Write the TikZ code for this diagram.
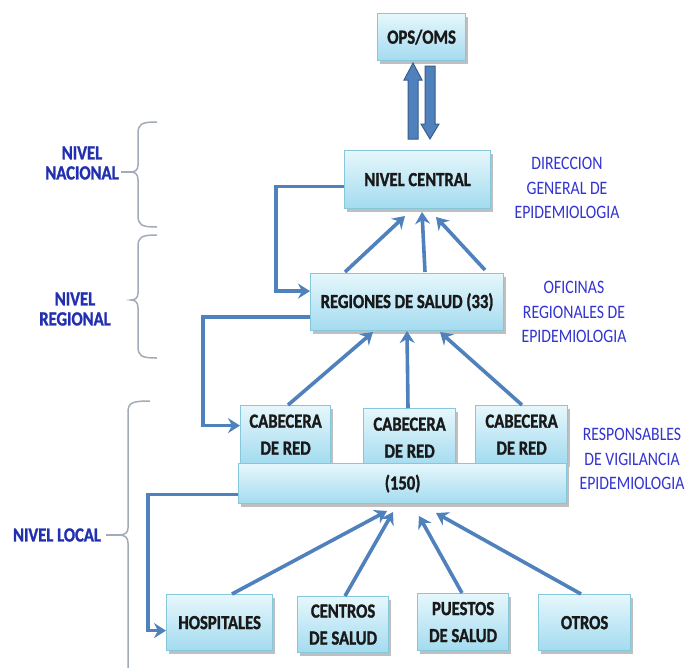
\documentclass[tikz,border=0pt]{standalone}
\usepackage{fontspec}
\setmainfont[FakeStretch=0.83,BoldFeatures={FakeBold=1.3}]{Carlito}
\usetikzlibrary{arrows.meta,shadows,calc}

\definecolor{arrowblue}{HTML}{4F81BD}
\definecolor{arrowedge}{HTML}{385D8A}
\definecolor{boxtop}{HTML}{E6F7FC}
\definecolor{boxbottom}{HTML}{A3DBEF}
\definecolor{boxedge}{HTML}{86C7DC}
\definecolor{levelblue}{HTML}{2230B0}
\definecolor{notesblue}{HTML}{3333D2}
\definecolor{bracegray}{HTML}{A3ABB8}

\tikzset{
  box/.style={anchor=north west, draw=boxedge, line width=1.2pt,
    top color=boxtop, bottom color=boxbottom, align=center,
    inner sep=2pt, text=black!90,
    font=\fontsize{20}{27}\selectfont\bfseries,
    drop shadow={shadow xshift=2pt, shadow yshift=-3pt, fill=black, opacity=0.25}},
  conn/.style={draw=arrowblue, line width=3.6pt,
    -{Stealth[length=12pt,width=15pt,inset=4pt]}},
  level/.style={text=levelblue, align=center,
    font=\fontsize{20}{20}\selectfont\bfseries},
  notes/.style={text=notesblue, align=center,
    font=\fontsize{19}{24.5}\selectfont},
  bracepath/.style={draw=bracegray, line width=1.5pt},
  blockarrow/.style={fill=arrowblue, draw=arrowedge, line width=1pt}
}

\begin{document}
\begin{tikzpicture}[x=1pt,y=-1pt]
\useasboundingbox[fill=white] (0,0) rectangle (685,667);

% ---- boxes ----
\node[box, minimum width=88, minimum height=47] (ops) at (377,13) {OPS/OMS};
\node[box, minimum width=146, minimum height=58] (central) at (344,150) {NIVEL CENTRAL};
\node[box, minimum width=193, minimum height=57] (regiones) at (310,273) {REGIONES DE SALUD (33)};

\node[box, minimum width=90, minimum height=58] (cab1) at (240,405) {CABECERA\\DE RED};
\node[box, minimum width=92, minimum height=58] (cab2) at (363,408) {CABECERA\\DE RED};
\node[box, minimum width=92, minimum height=58] (cab3) at (475,405) {CABECERA\\DE RED};
\node[box, minimum width=328, minimum height=40] (red) at (238,463) {(150)};

\node[box, minimum width=106, minimum height=56] (hosp) at (166,594) {HOSPITALES};
\node[box, minimum width=91, minimum height=56] (centros) at (297,596) {CENTROS\\DE SALUD};
\node[box, minimum width=91, minimum height=57] (puestos) at (417,593) {PUESTOS\\DE SALUD};
\node[box, minimum width=92, minimum height=56] (otros) at (538,594) {OTROS};

% ---- exchange with OPS/OMS ----
\path[blockarrow] (408,139) -- (408,80) -- (404,80) -- (413,63) -- (422,80)
  -- (418,80) -- (418,139) -- cycle;
\path[blockarrow] (425,66) -- (435,66) -- (435,124) -- (439,124) -- (430,139)
  -- (421,124) -- (425,124) -- cycle;

% ---- reporting arrows ----
\coordinate (r1) at (345,272); \coordinate (c1) at (405,216);
\coordinate (r2) at (425,272); \coordinate (c2) at (422,212);
\coordinate (r3) at (485,270); \coordinate (c3) at (436,217);
\draw[conn] (r1) -- (c1);
\draw[conn] (r2) -- (c2);
\draw[conn] (r3) -- (c3);

\draw[conn] (cab1.north -| 288,0) -- (373,332);
\draw[conn] (cab2.north -| 408,0) -- (407,331);
\draw[conn] (cab3.north -| 522,0) -- (440,332);

\draw[conn] (hosp.north -| 232,0) -- (387,511);
\draw[conn] (centros.north -| 345,0) -- (393,512);
\draw[conn] (puestos.north -| 462,0) -- (419,516);
\draw[conn] (otros.north -| 581,0) -- (436,513);

% ---- feedback elbows ----
\draw[conn] ([yshift=-7pt]central.west) -- ++(-68,0) |- ([yshift=11pt]regiones.west);
\draw[conn] ([yshift=-15pt]regiones.west) -- ++(-107,0) |- ([yshift=9pt]cab1.west);
\draw[conn] ([yshift=-11pt]red.west) -- ++(-90,0) |- ([yshift=-8pt]hosp.west);

% ---- level braces ----
\draw[bracepath] (157,122) .. controls (141,122) and (138,124) .. (138,134)
  -- (138,165) .. controls (138,170) and (135,172) .. (131,172)
  .. controls (135,172) and (138,174) .. (138,180)
  -- (138,215) .. controls (138,225) and (141,227) .. (157,227);
\draw[bracepath] (157,235) .. controls (141,235) and (138,237) .. (138,247)
  -- (138,293) .. controls (138,298) and (135,300) .. (131,300)
  .. controls (135,300) and (138,302) .. (138,308)
  -- (138,346) .. controls (138,356) and (141,358) .. (157,358);
\draw[bracepath] (150,401) .. controls (131,401) and (128,403) .. (128,413)
  -- (128,528) .. controls (128,533) and (125,535) .. (118,535)
  .. controls (125,535) and (128,537) .. (128,543)
  -- (128,668);

% ---- level labels ----
\node[level] (nacional) at (82,163) {NIVEL\\NACIONAL};
\node[level] (regional) at (75,309) {NIVEL\\REGIONAL};
\node[level] (local) at (57,535) {NIVEL LOCAL};
\draw[bracepath] (121,172) -- (131,172);
\draw[bracepath] (local.east) ++(2,0) -- (118,535);

% ---- responsible units ----
\node[notes] (dge) at (567,188) {DIRECCION\\GENERAL DE\\EPIDEMIOLOGIA};
\node[notes] (ofi) at (574,312) {OFICINAS\\REGIONALES DE\\EPIDEMIOLOGIA};
\node[notes] (resp) at (632,459) {RESPONSABLES\\DE VIGILANCIA\\EPIDEMIOLOGIA};
\end{tikzpicture}
\end{document}
